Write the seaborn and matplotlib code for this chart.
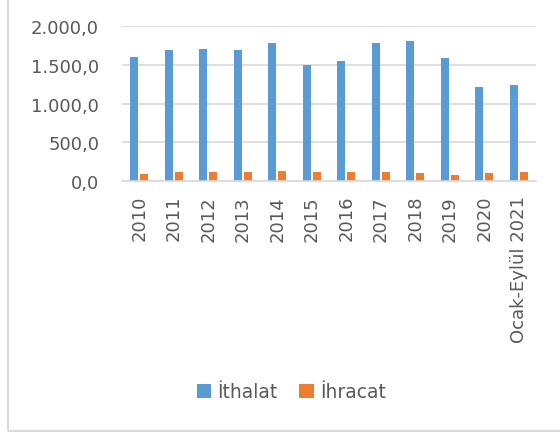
import matplotlib
matplotlib.use('Agg')
import matplotlib.pyplot as plt
import matplotlib.ticker as mticker
from matplotlib.patches import Rectangle
import pandas as pd
import seaborn as sns

years = ['2010', '2011', '2012', '2013', '2014', '2015', '2016', '2017',
         '2018', '2019', '2020', 'Ocak-Eylül 2021']
ithalat = [1600, 1695, 1703, 1695, 1784, 1497, 1552, 1776, 1810, 1591, 1218, 1243]
ihracat = [94, 116, 112, 116, 129, 116, 112, 112, 100, 82, 108, 112]

series_names = ['İthalat', 'İhracat']
colors = ['#5B9BD5', '#ED7D31']
text_col = '#595959'
grid_col = '#D9D9D9'

df = pd.DataFrame({
    'yil': years * 2,
    'deger': ithalat + ihracat,
    'seri': [series_names[0]] * len(years) + [series_names[1]] * len(years),
})

sns.set_theme(style='white')
plt.rcParams['font.family'] = ['DejaVu Sans']

fig = plt.figure(figsize=(5.6, 4.35), dpi=100)
ax = fig.add_axes([0.2179, 0.5816, 0.7393, 0.3563])

sns.barplot(data=df, x='yil', y='deger', hue='seri', palette=colors,
            width=0.58, gap=0.2, ax=ax, legend=True, saturation=1,
            linewidth=0)

ax.set_ylim(0, 2000)
ax.set_xlim(-0.5, len(years) - 0.5)
ax.yaxis.set_major_locator(mticker.MultipleLocator(500))
ax.yaxis.set_major_formatter(mticker.FuncFormatter(
    lambda v, p: f'{v:,.1f}'.replace(',', 'X').replace('.', ',').replace('X', '.')))
ax.grid(axis='y', color=grid_col, linewidth=1.2)
ax.set_axisbelow(True)
for s in ['top', 'right', 'left']:
    ax.spines[s].set_visible(False)
ax.spines['bottom'].set_color(grid_col)
ax.spines['bottom'].set_linewidth(1.2)
ax.set_xlabel('')
ax.set_ylabel('')
ax.tick_params(axis='y', length=0, pad=16.5, labelsize=13, labelcolor=text_col)
ax.tick_params(axis='x', length=0, pad=10, labelsize=13, labelcolor=text_col,
               labelrotation=90)

handles, labels = ax.get_legend_handles_labels()
ax.get_legend().remove()
fig.legend(handles, labels, loc='center', bbox_to_anchor=(0.52, 0.0966),
           ncol=2, frameon=False, fontsize=13.5, labelcolor=text_col,
           handlelength=0.78, handleheight=0.78, handletextpad=0.33,
           columnspacing=1.15)

# chart frame (only left and bottom edges visible)
fig.patches.append(Rectangle((8 / 560, 3 / 435), 1.0, 1.2, transform=fig.transFigure,
                             fill=False, edgecolor=grid_col, linewidth=1.5))

fig.savefig('out.png', dpi=100)
